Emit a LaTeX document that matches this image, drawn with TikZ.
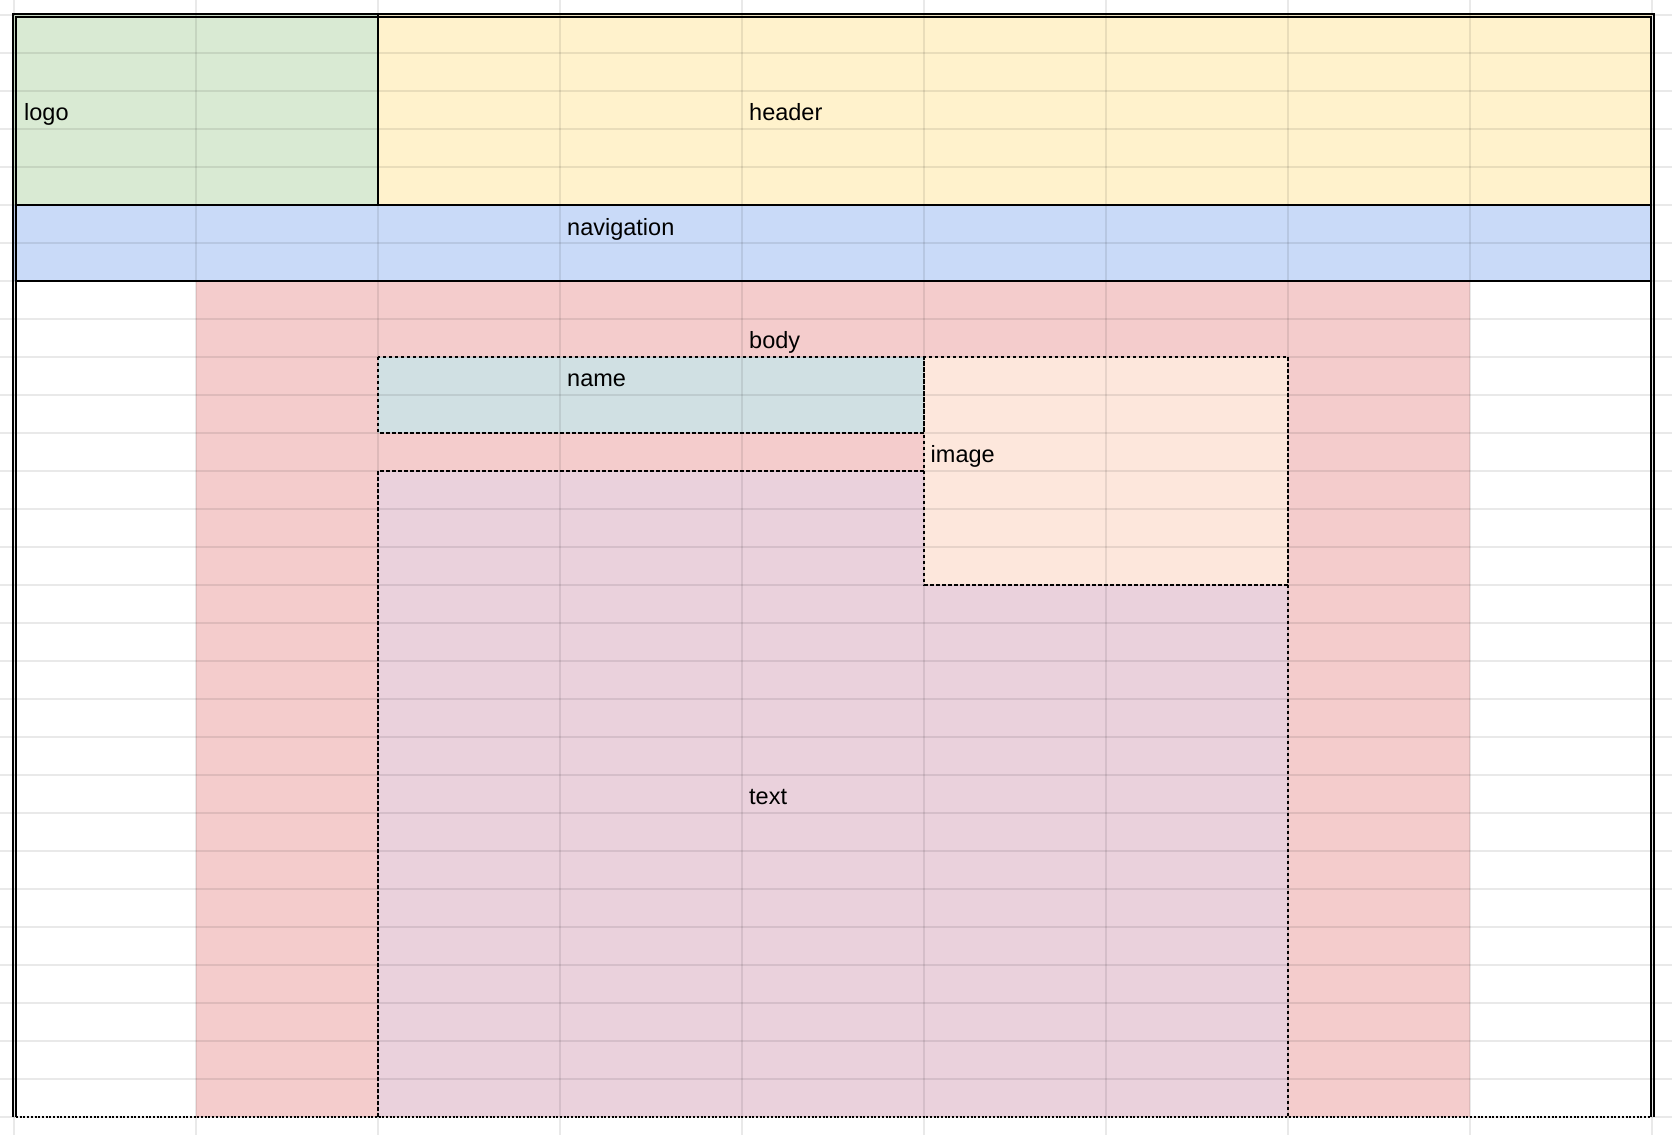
\documentclass[tikz,border=0pt]{standalone}
\usepackage{fontspec}
\setmainfont{Liberation Sans}
\definecolor{logoc}{HTML}{D9EAD3}
\definecolor{headc}{HTML}{FFF2CC}
\definecolor{navc}{HTML}{C9DAF8}
\definecolor{bodyc}{HTML}{F4CCCC}
\definecolor{namec}{HTML}{D0E0E3}
\definecolor{imagec}{HTML}{FDE7DC}
\definecolor{textc}{HTML}{EAD1DC}
\begin{document}
\begin{tikzpicture}[x=1pt,y=-1pt,
  lbl/.style={anchor=base west,inner sep=0pt,font=\fontsize{23.5}{28}\selectfont,text=black},
  gridline/.style={draw=black,draw opacity=0.085,line width=2pt},
  boxline/.style={draw=black,line width=2pt,dash pattern=on 3.5pt off 2.5pt},
  solidline/.style={draw=black,line width=2pt},
  borderline/.style={draw=black,line width=2pt}]
\useasboundingbox (0,0) rectangle (1672,1135);
\fill[white] (0,0) rectangle (1672,1135);
% fills
\fill[logoc] (14,14.7) rectangle (378,204.7);
\fill[headc] (378,14.7) rectangle (1652,204.7);
\fill[navc] (14,204.7) rectangle (1652,280.7);
\fill[bodyc] (196,280.7) rectangle (1470,1116.7);
\fill[namec] (378,356.7) rectangle (924,432.7);
\fill[textc] (378,470.7) -- (924,470.7) -- (924,584.7) -- (1288,584.7) -- (1288,1116.7) -- (378,1116.7) -- cycle;
\fill[imagec] (924,356.7) rectangle (1288,584.7);
% grid
\foreach \k in {0,...,9} \draw[gridline] (14+182*\k,0) -- (14+182*\k,1135);
\foreach \k in {0,...,29} \draw[gridline] (0,14.7+38*\k) -- (1672,14.7+38*\k);
% dashed boxes
\draw[boxline] (378,356.7) rectangle (924,432.7);
\draw[boxline] (924,356.7) rectangle (1288,584.7);
\draw[boxline] (378,1116.7) -- (378,470.7) -- (924,470.7);
\draw[boxline] (1288,584.7) -- (1288,1116.7);
% solid lines
\draw[solidline] (378,15) -- (378,204.7);
\draw[solidline] (15,204.7) -- (1652,204.7);
\draw[solidline] (15,280.7) -- (1652,280.7);
% outer double border
\draw[borderline] (13,1117) -- (13,14) -- (1653.8,14) -- (1653.8,1117);
\draw[borderline] (16,1117) -- (16,17) -- (1650.8,17) -- (1650.8,1117);
\draw[draw=black,line width=2pt,dash pattern=on 2pt off 1.7pt] (16,1116.7) -- (1651,1116.7);
% labels
\node[lbl] (logo) at (24,120) {logo};
\node[lbl] (header) at (749,120) {header};
\node[lbl] (nav) at (567,235) {navigation};
\node[lbl] (body) at (749,348.3) {body};
\node[lbl] (name) at (567,386.7) {name};
\node[lbl] (image) at (930.5,462.7) {image};
\node[lbl] (text) at (749,804.3) {text};
\end{tikzpicture}
\end{document}
